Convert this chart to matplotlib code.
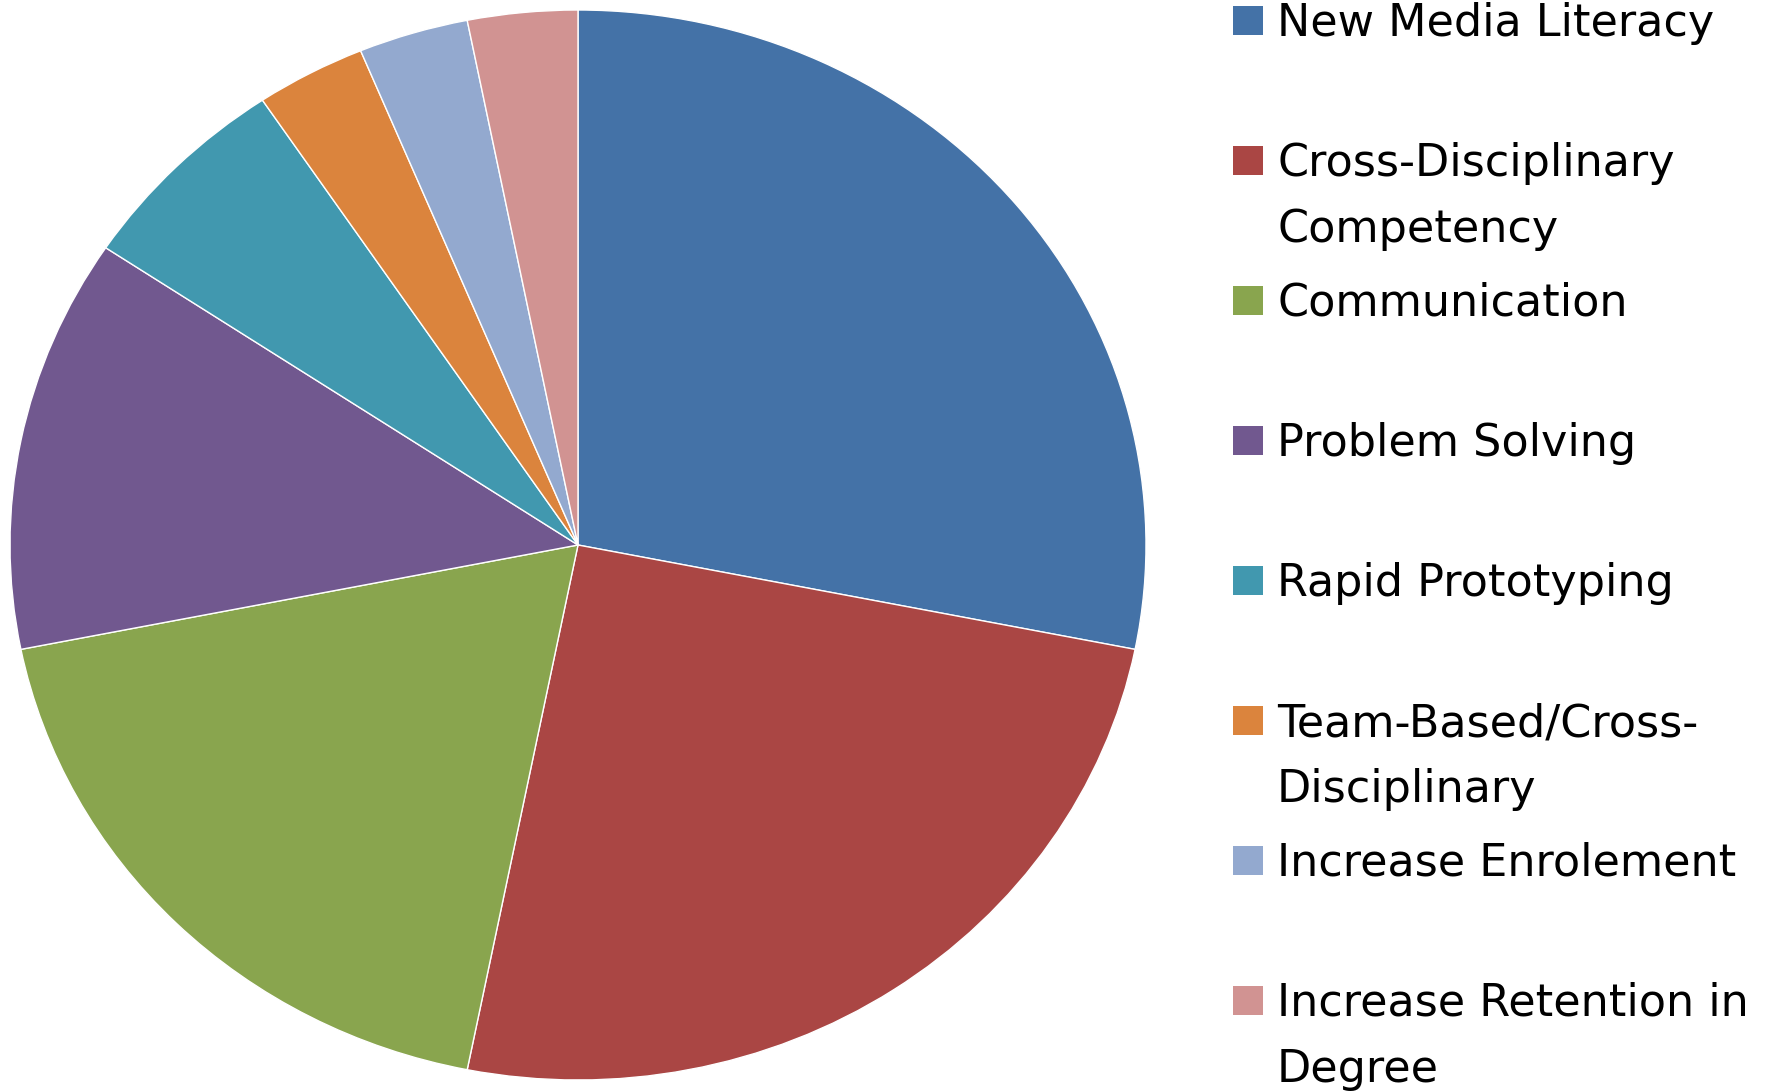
import matplotlib.pyplot as plt
from matplotlib.patches import Rectangle

labels = ["New Media Literacy", "Cross-Disciplinary\nCompetency", "Communication",
          "Problem Solving", "Rapid Prototyping", "Team-Based/Cross-\nDisciplinary",
          "Increase Enrolement", "Increase Retention in\nDegree"]
values = [9, 8, 6, 4, 2, 1, 1, 1]
colors = ["#4472A7", "#AA4644", "#89A54E", "#71588F", "#4198AF", "#DB843D", "#93A9CF", "#D19392"]

W, H = 1790, 1091
fig = plt.figure(figsize=(W / 100, H / 100), dpi=100)

# pie is slightly stretched sideways in the original, so aspect stays auto
ax = fig.add_axes([10 / W, 1 - 1080 / H, 1136 / W, 1070 / H])
ax.pie(values, colors=colors, startangle=90, counterclock=False,
       wedgeprops=dict(edgecolor="white", linewidth=1))
ax.set_aspect("auto")
ax.set_xlim(-1, 1)
ax.set_ylim(-1, 1)

font = "DejaVu Sans"
fs = 32
for i, (lab, c) in enumerate(zip(labels, colors)):
    base = 36 + 140 * i
    fig.patches.append(Rectangle((1233 / W, 1 - (base - 1) / H), 30 / W, 29 / H,
                                 facecolor=c, edgecolor="none", transform=fig.transFigure))
    for j, line in enumerate(lab.split("\n")):
        fig.text(1277 / W, 1 - (base + 66 * j) / H, line, fontsize=fs, family=font,
                 va="baseline", ha="left", color="black")

fig.savefig("out.png", dpi=100)
